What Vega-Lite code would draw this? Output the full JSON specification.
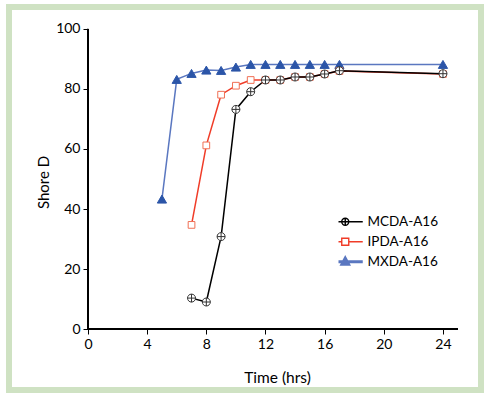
{
  "$schema": "https://vega.github.io/schema/vega-lite/v6.json",
  "width": 472,
  "height": 383,
  "autosize": "none",
  "padding": {"left": 9, "top": 7, "right": 9, "bottom": 7},
  "background": "white",
  "config": {
    "view": {"fill": "white", "stroke": "#cfe2c3", "strokeWidth": 6},
    "font": "Lato",
    "axis": {"grid": false, "domain": false, "tickColor": "#000000", "labelColor": "#000000", "titleColor": "#000000", "labelFont": "Lato", "titleFont": "Lato", "labelFontSize": 14, "titleFontSize": 15.5, "titleFontWeight": "normal", "labelOverlap": false, "labelFlush": false}
  },
  "data": {
    "values": [
      {"series": "MXDA-A16", "time": 5, "shore": 43.3},
      {"series": "MXDA-A16", "time": 6, "shore": 83.2},
      {"series": "MXDA-A16", "time": 7, "shore": 85.2},
      {"series": "MXDA-A16", "time": 8, "shore": 86.3},
      {"series": "MXDA-A16", "time": 9, "shore": 86.2},
      {"series": "MXDA-A16", "time": 10, "shore": 87.3},
      {"series": "MXDA-A16", "time": 11, "shore": 88.2},
      {"series": "MXDA-A16", "time": 12, "shore": 88.2},
      {"series": "MXDA-A16", "time": 13, "shore": 88.2},
      {"series": "MXDA-A16", "time": 14, "shore": 88.2},
      {"series": "MXDA-A16", "time": 15, "shore": 88.2},
      {"series": "MXDA-A16", "time": 16, "shore": 88.2},
      {"series": "MXDA-A16", "time": 17, "shore": 88.2},
      {"series": "MXDA-A16", "time": 24, "shore": 88.2},
      {"series": "IPDA-A16", "time": 7, "shore": 34.7},
      {"series": "IPDA-A16", "time": 8, "shore": 61.2},
      {"series": "IPDA-A16", "time": 9, "shore": 78.1},
      {"series": "IPDA-A16", "time": 10, "shore": 81.1},
      {"series": "IPDA-A16", "time": 11, "shore": 83},
      {"series": "IPDA-A16", "time": 12, "shore": 83},
      {"series": "IPDA-A16", "time": 13, "shore": 83},
      {"series": "IPDA-A16", "time": 14, "shore": 84},
      {"series": "IPDA-A16", "time": 15, "shore": 84},
      {"series": "IPDA-A16", "time": 16, "shore": 85},
      {"series": "IPDA-A16", "time": 17, "shore": 86},
      {"series": "IPDA-A16", "time": 24, "shore": 85},
      {"series": "MCDA-A16", "time": 7, "shore": 10.3},
      {"series": "MCDA-A16", "time": 8, "shore": 9},
      {"series": "MCDA-A16", "time": 9, "shore": 30.8},
      {"series": "MCDA-A16", "time": 10, "shore": 73.2},
      {"series": "MCDA-A16", "time": 11, "shore": 79.1},
      {"series": "MCDA-A16", "time": 12, "shore": 83},
      {"series": "MCDA-A16", "time": 13, "shore": 83},
      {"series": "MCDA-A16", "time": 14, "shore": 84},
      {"series": "MCDA-A16", "time": 15, "shore": 84},
      {"series": "MCDA-A16", "time": 16, "shore": 85},
      {"series": "MCDA-A16", "time": 17, "shore": 86.1},
      {"series": "MCDA-A16", "time": 24, "shore": 85.1}
    ]
  },
  "layer": [
    {
      "mark": {"type": "rule", "color": "#000000", "strokeWidth": 1},
      "encoding": {
        "x": {"datum": 0, "type": "quantitative"},
        "x2": {"datum": 25},
        "y": {"datum": 0, "type": "quantitative"}
      }
    },
    {
      "mark": {"type": "rule", "color": "#000000", "strokeWidth": 1},
      "encoding": {
        "x": {"datum": 0, "type": "quantitative"},
        "y": {"datum": 0, "type": "quantitative"},
        "y2": {"datum": 100}
      }
    },
    {
      "mark": {"type": "line", "strokeWidth": 1.5},
      "encoding": {
        "x": {
          "field": "time", "type": "quantitative",
          "scale": {"domain": [-5.341, 26.572], "nice": false, "zero": false},
          "axis": {
            "values": [0, 2, 4, 6, 8, 10, 12, 14, 16, 18, 20, 22, 24],
            "labelExpr": "datum.value % 4 === 0 ? datum.label : ''",
            "tickSize": {"condition": {"test": "datum.value % 4 === 0", "value": 5}, "value": 3},
            "offset": -61,
            "labelPadding": 3,
            "title": "Time (hrs)",
            "titleX": 268,
            "titleY": 48,
            "titleAlign": "center",
            "titleBaseline": "middle"
          }
        },
        "y": {
          "field": "shore", "type": "quantitative",
          "scale": {"domain": [-20.333, 107.333], "nice": false, "zero": false},
          "axis": {
            "values": [0, 10, 20, 30, 40, 50, 60, 70, 80, 90, 100],
            "labelExpr": "datum.value % 20 === 0 ? datum.label : ''",
            "tickSize": {"condition": {"test": "datum.value % 20 === 0", "value": 5}, "value": 3},
            "offset": -79,
            "labelPadding": 3,
            "title": "Shore D",
            "titleFontSize": 15,
            "titleX": -45,
            "titleY": 175,
            "titleAngle": 270,
            "titleAlign": "center",
            "titleBaseline": "middle"
          }
        },
        "color": {
          "field": "series", "type": "nominal",
          "scale": {"domain": ["MCDA-A16", "IPDA-A16", "MXDA-A16"], "range": ["#000000", "#f03c28", "#5a77c0"]},
          "legend": {
            "orient": "none",
            "legendX": 329.5,
            "legendY": 207.7,
            "title": null,
            "padding": 0,
            "symbolSize": 100,
            "clipHeight": 14,
            "rowPadding": 6,
            "labelOffset": 15.5,
            "labelFontSize": 13.5,
            "labelFont": "Lato",
            "labelColor": "#000000",
            "encode": {
              "symbols": {
                "update": {
                  "shape": {"signal": "datum.value === 'MCDA-A16' ? 'M-3.5,0H3.5M0.7,0A0.7,0.7,0,1,1,-0.7,0A0.7,0.7,0,1,1,0.7,0ZM0,-0.7V0.7' : datum.value === 'IPDA-A16' ? 'M-3.5,0H-0.7M0.7,0H3.5M-0.7,-0.7H0.7V0.7H-0.7Z' : 'M-3.5,0H3.5M0,-0.7L0.65,0.5H-0.65Z'"},
                  "fill": {"signal": "datum.value === 'MXDA-A16' ? '#2b55a8' : '#ffffff'"},
                  "stroke": {"signal": "datum.value === 'MCDA-A16' ? '#000000' : datum.value === 'IPDA-A16' ? '#f04a30' : '#5a77c0'"},
                  "strokeWidth": {"signal": "datum.value === 'MXDA-A16' ? 3 : 1.4"},
                  "opacity": {"value": 1}
                }
              }
            }
          }
        }
      }
    },
    {
      "mark": {"type": "point", "opacity": 1, "strokeWidth": 1},
      "encoding": {
        "x": {"field": "time", "type": "quantitative"},
        "y": {"field": "shore", "type": "quantitative"},
        "shape": {
          "condition": [
            {"test": "datum.series === 'MXDA-A16'", "value": "triangle-up"},
            {"test": "datum.series === 'IPDA-A16'", "value": "square"}
          ],
          "value": "M1,0A1,1,0,1,1,-1,0A1,1,0,1,1,1,0ZM-1,0H1M0,-1V1"
        },
        "size": {
          "condition": [
            {"test": "datum.series === 'MXDA-A16'", "value": 85},
            {"test": "datum.series === 'IPDA-A16'", "value": 45}
          ],
          "value": 64
        },
        "fill": {
          "condition": [
            {"test": "datum.series === 'MXDA-A16'", "value": "#2b55a8"}
          ],
          "value": "#ffffff"
        },
        "stroke": {
          "condition": [
            {"test": "datum.series === 'MXDA-A16'", "value": "#2b55a8"},
            {"test": "datum.series === 'IPDA-A16'", "value": "#f07055"}
          ],
          "value": "#333333"
        }
      }
    }
  ]
}
